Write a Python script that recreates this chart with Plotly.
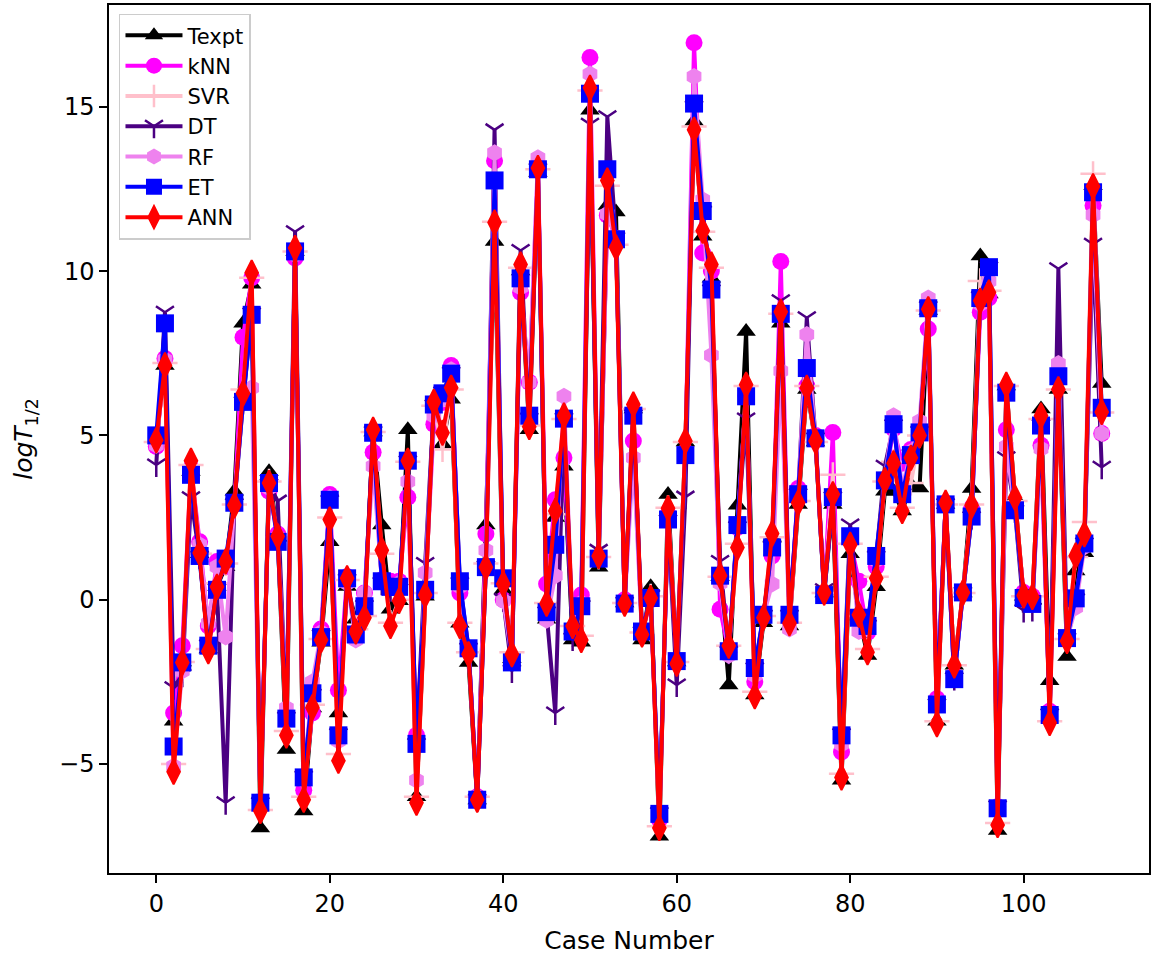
import plotly.graph_objects as go

# Case index along the x axis
case_number = list(range(110))

# logT1/2 values per model
texpt = [4.9, 7.13, -3.7, -1.9, 3.9, 1.4, -1.5, 0.4, 1.0, 3.3,
         8.41, 9.6, -6.95, 3.89, 1.9, -4.56, 10.6, -6.43, -3.3, -1.3,
         1.76, -3.45, 0.4, -0.6, -0.4, 5.1, 2.27, -0.29, -0.03, 5.17,
         -6.0, 0.1, 6.0, 4.74, 6.1, -0.72, -1.91, -6.1, 2.27, 10.9,
         0.3, -1.8, 10.0, 5.17, 13.0, -0.6, 2.5, 4.06, -1.23, -1.3,
         14.9, 0.99, 12.0, 11.8, -0.1, 5.8, -1.23, 0.39, -7.2, 3.2,
         -1.9, 4.8, 14.56, 11.06, 9.78, 0.7, -2.6, 2.87, 8.16, -2.9,
         -0.7, 1.9, 8.41, -0.8, 2.9, 6.4, 4.8, 0.2, 2.9, -5.5,
         1.4, -0.5, -1.7, 0.39, 3.3, 3.3, 2.7, 3.5, 3.4, 8.8,
         -3.7, 2.9, -2.0, 0.2, 3.38, 10.46, 9.3, -7.03, 6.5, 3.1,
         0.1, 0.0, 5.8, -2.47, 6.4, -1.73, 0.87, 1.43, 12.6, 6.58]

knn = [4.66, 7.34, -3.45, -1.4, 4.0, 1.76, -0.8, 1.16, 1.0, 2.9,
       7.99, 9.8, -6.2, 3.3, 2.0, -3.5, 10.4, -5.8, -3.45, -0.89,
       3.2, -2.76, 0.7, -1.0, 0.2, 4.49, 0.6, 0.56, 0.56, 3.12,
       -4.13, 0.3, 5.34, 6.0, 7.13, 0.2, -1.5, -6.0, 2.0, 13.36,
       0.0, -1.8, 9.35, 6.62, 13.2, 0.48, 3.04, 4.32, -0.9, 0.14,
       16.5, 1.3, 11.7, 11.0, 0.0, 4.83, -1.0, 0.0, -6.7, 2.6,
       -1.9, 4.5, 16.95, 10.55, 10.0, -0.29, -1.6, 2.2, 6.2, -2.5,
       -0.5, 1.33, 10.29, -0.6, 3.38, 6.5, 5.0, 0.2, 5.09, -4.64,
       1.8, 0.56, -1.0, 1.0, 3.6, 5.2, 4.15, 4.57, 5.2, 8.24,
       -3.02, 2.9, -2.3, 0.2, 2.8, 8.75, 9.18, -6.3, 5.17, 2.8,
       0.22, 0.1, 4.7, -3.4, 6.9, -1.2, 0.0, 1.8, 12.0, 5.06]

svr = [4.8, 7.2, -5.0, -1.9, 4.1, 1.4, -1.5, 0.5, 1.1, 2.9,
       6.4, 9.8, -6.4, 3.6, 1.9, -4.0, 10.6, -6.0, -3.2, -1.2,
       2.5, -4.7, 0.6, -0.9, -0.5, 5.1, 1.4, -0.7, 0.0, 4.2,
       -6.0, 0.2, 5.9, 4.57, 6.4, -0.7, -1.6, -6.0, 1.1, 11.5,
       0.5, -1.6, 10.1, 5.3, 13.1, -0.1, 2.6, 5.5, -0.8, -1.1,
       15.5, 1.3, 12.6, 10.8, -0.1, 5.8, -1.0, 0.1, -6.9, 2.8,
       -1.9, 4.8, 14.4, 11.2, 10.1, 0.7, -1.4, 1.7, 6.5, -2.8,
       -0.5, 1.9, 8.7, -0.7, 3.0, 6.5, 4.8, 0.2, 3.8, -5.3,
       1.7, -0.5, -1.5, 0.7, 3.6, 4.2, 2.8, 3.55, 5.0, 8.8,
       -3.7, 2.9, -2.0, 0.2, 2.9, 9.7, 9.4, -6.8, 6.5, 3.0,
       0.1, 0.1, 5.5, -3.7, 6.4, -1.2, 1.3, 2.36, 12.96, 5.7]

dt = [4.1, 8.75, -2.68, -2.3, 3.1, 1.3, -1.4, 0.3, -6.18, 2.9,
      6.0, 8.7, -6.2, 3.5, 3.0, -3.6, 11.2, -5.4, -2.9, -1.1,
      3.0, -4.1, 0.6, -1.0, -0.2, 5.1, 0.5, 0.3, 0.3, 4.2,
      -4.4, 1.1, 5.9, 6.3, 6.9, 0.5, -1.5, -6.1, 1.0, 14.3,
      0.0, -2.17, 10.63, 5.5, 13.1, -0.4, -3.45, 5.5, -1.2, -0.2,
      14.47, 1.5, 14.7, 11.0, -0.1, 5.6, -1.0, 0.1, -6.5, 2.4,
      -2.6, 3.12, 15.0, 11.8, 9.4, 1.16, -1.6, 2.2, 5.5, -2.1,
      -0.5, 1.6, 9.1, -0.5, 3.2, 8.58, 4.9, 0.3, 3.1, -4.1,
      2.27, -0.5, -0.8, 1.3, 4.06, 5.3, 3.2, 4.4, 5.1, 8.9,
      -3.2, 2.9, -2.4, 0.2, 2.5, 9.2, 10.1, -6.3, 4.32, 2.7,
      -0.33, -0.3, 5.3, -3.5, 10.07, -1.2, 0.0, 1.7, 10.82, 4.03]

rf = [4.7, 7.3, -5.07, -2.17, 3.9, 1.67, -0.72, 1.0, -1.14, 2.9,
      6.2, 6.45, -6.1, 3.4, 1.9, -3.3, 10.5, -5.5, -2.5, -1.0,
      3.1, -4.3, 0.5, -1.23, 0.22, 4.06, 0.6, 0.4, 0.5, 3.6,
      -5.5, 0.82, 5.6, 6.1, 7.0, 0.4, -1.5, -6.0, 1.5, 13.6,
      -0.03, -1.8, 9.5, 6.62, 13.45, -0.63, 0.73, 6.19, -0.9, -0.1,
      16.0, 1.3, 11.74, 11.0, -0.1, 4.32, -1.0, 0.0, -6.6, 2.5,
      -1.9, 4.4, 15.92, 12.17, 7.44, 0.5, -1.7, 2.2, 6.2, -2.3,
      -0.5, 0.48, 6.96, -0.89, 3.3, 8.07, 4.9, 0.2, 3.2, -4.4,
      1.9, -0.97, -0.9, 1.2, 3.7, 5.6, 3.4, 4.5, 5.43, 9.18,
      -3.1, 2.9, -2.4, 0.2, 2.6, 9.0, 9.69, -6.3, 4.66, 2.7,
      0.1, -0.1, 4.59, -3.5, 7.19, -1.2, -0.24, 1.6, 11.71, 5.06]

et = [5.0, 8.41, -4.47, -1.91, 3.8, 1.33, -1.4, 0.3, 1.25, 2.95,
      6.02, 8.67, -6.18, 3.55, 1.76, -3.62, 10.6, -5.41, -2.85, -1.14,
      3.04, -4.13, 0.65, -1.06, -0.2, 5.08, 0.56, 0.39, 0.39, 4.23,
      -4.39, 0.3, 5.94, 6.28, 6.88, 0.56, -1.48, -6.09, 0.99, 12.76,
      0.65, -1.91, 9.78, 5.6, 13.1, -0.38, 1.67, 5.51, -0.97, -0.2,
      15.4, 1.25, 13.1, 10.97, -0.12, 5.6, -0.97, 0.05, -6.52, 2.44,
      -1.87, 4.4, 15.1, 11.83, 9.44, 0.73, -1.57, 2.27, 6.19, -2.08,
      -0.46, 1.59, 8.7, -0.46, 3.21, 7.05, 4.91, 0.14, 3.12, -4.13,
      1.93, -0.55, -0.8, 1.33, 3.63, 5.34, 3.21, 4.4, 5.09, 8.87,
      -3.19, 2.9, -2.42, 0.22, 2.53, 9.18, 10.12, -6.35, 6.3, 2.72,
      0.05, -0.13, 5.3, -3.51, 6.8, -1.17, 0.04, 1.71, 12.4, 5.84]

ann = [4.85, 7.13, -5.24, -1.91, 4.23, 1.42, -1.57, 0.39, 1.16, 2.87,
       6.28, 9.95, -6.43, 3.55, 1.93, -4.13, 10.7, -6.09, -3.28, -1.23,
       2.44, -4.9, 0.65, -0.97, -0.55, 5.17, 1.5, -0.8, -0.03, 4.23,
       -6.18, 0.14, 6.02, 5.08, 6.45, -0.8, -1.66, -6.09, 0.99, 11.48,
       0.48, -1.66, 10.2, 5.26, 13.14, -0.12, 2.7, 5.6, -0.8, -1.23,
       15.58, 1.33, 12.76, 10.72, -0.12, 5.94, -1.06, 0.05, -6.95, 2.78,
       -1.95, 4.83, 14.3, 11.23, 10.2, 0.73, -1.4, 1.59, 6.54, -2.94,
       -0.55, 2.01, 8.76, -0.72, 2.95, 6.45, 4.83, 0.22, 3.21, -5.41,
       1.67, -0.46, -1.6, 0.65, 3.63, 4.15, 2.7, 4.32, 5.0, 8.84,
       -3.79, 2.95, -2.0, 0.22, 2.87, 9.1, 9.35, -6.86, 6.54, 3.1,
       0.13, 0.08, 5.6, -3.75, 6.4, -1.26, 1.34, 1.99, 12.58, 5.71]

# name, values, colour, marker symbol, marker size, marker outline width
series = [
    ("Texpt", texpt, "black", "triangle-up", 17, 0),
    ("kNN", knn, "#FF00FF", "circle", 17, 0),
    ("SVR", svr, "#FFC0CB", "cross-thin", 18, 2.5),
    ("DT", dt, "#4B0082", "y-down", 15, 2.5),
    ("RF", rf, "#EE82EE", "hexagon", 17, 0),
    ("ET", et, "#0000FF", "square", 18, 0),
    ("ANN", ann, "#FF0000", "diamond-tall", 18, 2),
]

fig = go.Figure()
for i, (name, vals, col, sym, size, lw) in enumerate(series):
    fig.add_trace(go.Scatter(
        x=case_number, y=vals, name=name, mode="lines+markers",
        line=dict(color=col, width=4),
        marker=dict(symbol=sym, size=size, color=col,
                    line=dict(color=col, width=lw)),
        legendgroup=f"g{i}",
    ))

font_family = "DejaVu Sans"
fig.update_layout(
    width=1153, height=958,
    margin=dict(l=109, r=2, t=5, b=85),
    paper_bgcolor="white", plot_bgcolor="white",
    font=dict(family=font_family, color="black", size=24),
    showlegend=True,
    legend=dict(
        x=0.0096, y=0.99, xanchor="left", yanchor="top",
        bgcolor="rgba(255,255,255,0.85)", bordercolor="#cccccc", borderwidth=1.5,
        font=dict(size=21, family=font_family),
        tracegroupgap=0, itemwidth=57,
    ),
    xaxis=dict(
        range=[-5.45, 114.45], tickvals=[0, 20, 40, 60, 80, 100],
        showgrid=False, zeroline=False,
        showline=True, mirror=True, linecolor="black", linewidth=1.5,
        ticks="outside", ticklen=8, tickwidth=1.5, tickcolor="black",
        tickfont=dict(size=24),
        title=dict(text="Case Number", font=dict(size=25), standoff=15),
    ),
    yaxis=dict(
        range=[-8.32, 18.1], tickvals=[-5, 0, 5, 10, 15],
        ticktext=["\u22125", "0", "5", "10", "15"],
        showgrid=False, zeroline=False,
        showline=True, mirror=True, linecolor="black", linewidth=1.5,
        ticks="outside", ticklen=8, tickwidth=1.5, tickcolor="black",
        tickfont=dict(size=24),
        title=dict(text="<i>logT</i><sub>1/2</sub>", font=dict(size=25), standoff=19),
    ),
)

fig.write_html("out.html")
